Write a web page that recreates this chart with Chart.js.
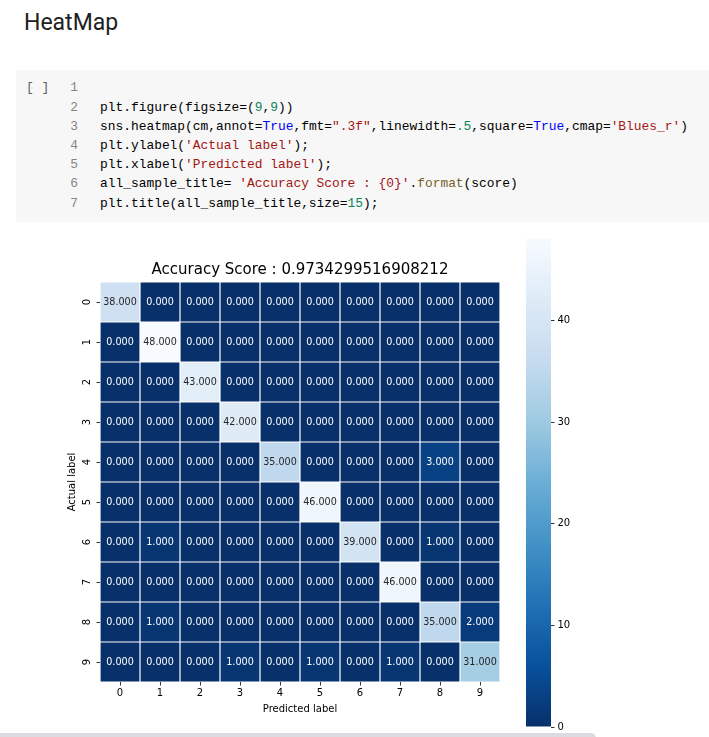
<!DOCTYPE html>
<html><head><meta charset="utf-8">
<script src="https://cdn.jsdelivr.net/npm/chart.js@4.4.0/dist/chart.umd.min.js"></script>
<style>
html,body{margin:0;padding:0;background:#fff;width:709px;height:737px;overflow:hidden;position:relative;}
#h1{position:absolute;left:24px;top:8px;font-family:Roboto,"Noto Sans",sans-serif;font-size:23px;line-height:30px;color:#212121;}
#cell{position:absolute;left:16px;top:70px;width:693px;height:152px;background:#f7f7f7;}
#run{position:absolute;left:26px;top:78px;font-family:"Liberation Mono",monospace;font-size:13px;line-height:19px;color:#616161;white-space:pre;}
.ln{position:absolute;left:40px;width:38px;text-align:right;font-family:"Liberation Mono",monospace;font-size:12.9px;line-height:19.2px;color:#858585;}
.cd{position:absolute;left:100px;font-family:"Liberation Mono",monospace;font-size:12.9px;line-height:19.2px;color:#000;white-space:pre;}
.k{color:#0000ff}.s{color:#a31515}.n{color:#098658}.f{color:#795e26}
#main{position:absolute;left:0;top:230px;}
#cbar{position:absolute;left:500px;top:230px;}
#scroll{position:absolute;left:0;top:733px;width:596px;height:10px;background:#dadce0;border-radius:0 5px 5px 0;}
</style></head>
<body>
<div id="h1">HeatMap</div>
<div id="cell"></div>
<div id="run">[ ]</div>
<div class="ln" style="top:78.4px">1</div>
<div class="ln" style="top:97.6px">2</div>
<div class="ln" style="top:116.8px">3</div>
<div class="ln" style="top:136px">4</div>
<div class="ln" style="top:155.2px">5</div>
<div class="ln" style="top:174.4px">6</div>
<div class="ln" style="top:193.6px">7</div>
<div class="cd" style="top:97.6px">plt.figure(figsize=(<span class="n">9</span>,<span class="n">9</span>))</div>
<div class="cd" style="top:116.8px">sns.heatmap(cm,annot=<span class="k">True</span>,fmt=<span class="s">".3f"</span>,linewidth=<span class="n">.5</span>,square=<span class="k">True</span>,cmap=<span class="s">'Blues_r'</span>)</div>
<div class="cd" style="top:136px">plt.ylabel(<span class="s">'Actual label'</span>);</div>
<div class="cd" style="top:155.2px">plt.xlabel(<span class="s">'Predicted label'</span>);</div>
<div class="cd" style="top:174.4px">all_sample_title= <span class="s">'Accuracy Score : {0}'</span>.<span class="f">format</span>(score)</div>
<div class="cd" style="top:193.6px">plt.title(all_sample_title,size=<span class="n">15</span>);</div>
<canvas id="main" width="520" height="507"></canvas>
<canvas id="cbar" width="100" height="507"></canvas>
<div id="scroll"></div>
<script>
// ---- data ----
const colLabels = ['0','1','2','3','4','5','6','7','8','9'];
const rowLabels = ['0','1','2','3','4','5','6','7','8','9'];
const row0 = [38,0,0,0,0,0,0,0,0,0];
const row1 = [0,48,0,0,0,0,0,0,0,0];
const row2 = [0,0,43,0,0,0,0,0,0,0];
const row3 = [0,0,0,42,0,0,0,0,0,0];
const row4 = [0,0,0,0,35,0,0,0,3,0];
const row5 = [0,0,0,0,0,46,0,0,0,0];
const row6 = [0,1,0,0,0,0,39,0,1,0];
const row7 = [0,0,0,0,0,0,0,46,0,0];
const row8 = [0,1,0,0,0,0,0,0,35,2];
const row9 = [0,0,0,1,0,1,0,1,0,31];
const cm = [row0,row1,row2,row3,row4,row5,row6,row7,row8,row9];
const cbarTicks = [0,10,20,30,40];
const score = 0.9734299516908212;
const titleText = 'Accuracy Score : ' + score;

// ---- colormap (Blues, reversed) ----
const blues = ['#f7fbff','#deebf7','#c6dbef','#9ecae1','#6baed6','#4292c6','#2171b5','#08519c','#08306b'];
const vmin = 0, vmax = Math.max(...cm.flat());
function hex2rgb(h){return [parseInt(h.slice(1,3),16),parseInt(h.slice(3,5),16),parseInt(h.slice(5,7),16)];}
function bluesR(t){
  const u = Math.min(1,Math.max(0,1-t))*(blues.length-1);
  const i = Math.min(blues.length-2, Math.floor(u)); const f = u-i;
  const a = hex2rgb(blues[i]), b = hex2rgb(blues[i+1]);
  return a.map((v,k)=>v+(b[k]-v)*f);
}
function colorFor(v){const c=bluesR((v-vmin)/(vmax-vmin));return 'rgb('+c.map(x=>Math.round(x)).join(',')+')';}
function lum(v){
  const c=bluesR((v-vmin)/(vmax-vmin)).map(x=>{x/=255;return x<=0.03928?x/12.92:Math.pow((x+0.055)/1.055,2.4);});
  return 0.2126*c[0]+0.7152*c[1]+0.0722*c[2];
}

Chart.defaults.font.family = '"DejaVu Sans", sans-serif';
Chart.defaults.font.size = 10;
Chart.defaults.color = '#000';

const annotPlugin = {
  id:'annot',
  afterDatasetsDraw(chart){
    const ctx = chart.ctx;
    ctx.save();
    ctx.font = '9.6px "DejaVu Sans"';
    ctx.textAlign = 'center'; ctx.textBaseline = 'middle';
    cm.forEach((row,r)=>{
      const meta = chart.getDatasetMeta(r);
      row.forEach((v,c)=>{
        const el = meta.data[c];
        ctx.fillStyle = lum(v) > 0.408 ? '#262626' : '#ffffff';
        ctx.fillText(v.toFixed(3), el.x, (el.y+el.base)/2);
      });
    });
    const ys = chart.scales.y;
    ctx.font = '10px "DejaVu Sans"';
    ctx.fillStyle = '#000';
    rowLabels.forEach((lab,i)=>{
      const y = ys.getPixelForValue(i+0.5);
      ctx.save();
      ctx.translate(chart.chartArea.left-13, y);
      ctx.rotate(-Math.PI/2);
      ctx.fillText(lab,0,0);
      ctx.restore();
    });
    ctx.restore();
  }
};

new Chart(document.getElementById('main'), {
  type:'bar',
  data:{
    labels: colLabels,
    datasets: cm.map((row,r)=>({
      data: row.map(()=>[r, r+1]),
      backgroundColor: row.map(colorFor),
      borderColor:'#ffffff',
      borderWidth:0.6,
      borderSkipped:false,
      inflateAmount:0,
      grouped:false,
      barPercentage:1,
      categoryPercentage:1
    }))
  },
  options:{
    responsive:false, animation:false,
    layout:{padding:{left:0,right:20,top:0,bottom:15}},
    plugins:{
      legend:{display:false}, tooltip:{enabled:false},
      title:{display:true, text:titleText, fullSize:false, color:'#000',
        font:{family:'"DejaVu Sans"', size:15, weight:'normal'}, padding:{top:31,bottom:3}}
    },
    scales:{
      x:{type:'category', offset:true,
        grid:{offset:false, drawOnChartArea:false, drawTicks:true, tickLength:3.5, tickColor:'#000', tickWidth:0.8},
        border:{display:false},
        ticks:{color:'#000', padding:2, maxRotation:0, autoSkip:false, font:{size:10}},
        title:{display:true, text:'Predicted label', color:'#000', font:{size:10}, padding:{top:0,bottom:7}},
        afterFit:s=>{s.height=40;}
      },
      y:{type:'linear', min:0, max:10, reverse:true,
        afterBuildTicks:s=>{s.ticks = rowLabels.map((_,i)=>({value:i+0.5}));},
        ticks:{display:false},
        grid:{drawOnChartArea:false, drawTicks:true, tickLength:3.5, tickColor:'#000', tickWidth:0.8},
        border:{display:false},
        title:{display:true, text:'Actual label', color:'#000', font:{size:10}, padding:{top:66,bottom:0}},
        afterFit:s=>{s.width=100;}
      }
    }
  },
  plugins:[annotPlugin]
});

new Chart(document.getElementById('cbar'), {
  type:'bar',
  data:{
    labels:[''],
    datasets:[{
      data:[[vmin, vmax]],
      backgroundColor:(ctx)=>{
        const ch = ctx.chart; const ys = ch.scales.y;
        if(!ys) return blues[8];
        const y0 = ys.getPixelForValue(vmin), y1 = ys.getPixelForValue(vmax);
        if(!isFinite(y0) || !isFinite(y1) || y0 === y1) return blues[8];
        const g = ch.ctx.createLinearGradient(0, y0, 0, y1);
        blues.slice().reverse().forEach((c,k)=>g.addColorStop(k/(blues.length-1), c));
        return g;
      },
      borderWidth:0, inflateAmount:0, barPercentage:1, categoryPercentage:1
    }]
  },
  options:{
    responsive:false, animation:false,
    layout:{padding:{left:26,right:0,top:8,bottom:10}},
    plugins:{legend:{display:false}, tooltip:{enabled:false}},
    scales:{
      x:{display:false},
      y:{type:'linear', position:'right', min:vmin, max:vmax,
        afterBuildTicks:s=>{s.ticks = cbarTicks.map(v=>({value:v}));},
        grid:{drawOnChartArea:false, drawTicks:true, tickLength:3.5, tickColor:'#000', tickWidth:0.8},
        border:{display:false},
        ticks:{color:'#000', padding:3, font:{size:10}},
        afterFit:s=>{s.width=49;}
      }
    }
  }
});
</script>
</body></html>
